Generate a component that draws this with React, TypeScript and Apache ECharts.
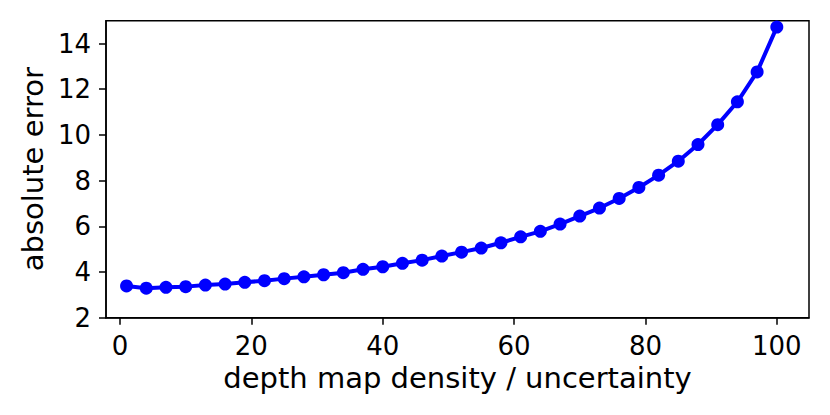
import React, { useEffect, useRef } from "react";
import * as echarts from "echarts";

const xValues = [1, 4, 7, 10, 13, 16, 19, 22, 25, 28, 31, 34, 37, 40, 43, 46, 49, 52, 55, 58, 61, 64, 67, 70, 73, 76, 79, 82, 85, 88, 91, 94, 97, 100];
const yValues = [3.39, 3.29, 3.33, 3.36, 3.43, 3.47, 3.55, 3.62, 3.71, 3.79, 3.88, 3.97, 4.12, 4.23, 4.38, 4.52, 4.70, 4.87, 5.05, 5.28, 5.54, 5.78, 6.10, 6.45, 6.80, 7.22, 7.70, 8.24, 8.85, 9.58, 10.45, 11.45, 12.76, 14.72];
const xTicks = [0, 20, 40, 60, 80, 100];
const yTicks = [2, 4, 6, 8, 10, 12, 14];
const xName = "depth map density / uncertainty";
const yName = "absolute error";

const FONT = "DejaVu Sans";

export default function App() {
  const ref = useRef<HTMLDivElement>(null);
  useEffect(() => {
    if (!ref.current) return;
    const chart = echarts.init(ref.current, undefined, { renderer: "svg" });
    chart.setOption({
      animation: false,
      backgroundColor: "#ffffff",
      grid: {
        left: 106,
        right: 21,
        top: 20.7,
        bottom: 97.3,
        show: true,
        borderColor: "#000000",
        borderWidth: 1.5,
        backgroundColor: "transparent",
      },
      xAxis: {
        type: "value",
        min: -2.13,
        max: 104.9,
        name: xName,
        nameLocation: "middle",
        nameGap: 46,
        nameTextStyle: { fontFamily: FONT, fontSize: 29, color: "#000" },
        splitLine: { show: false },
        axisLine: { show: true, onZero: false, lineStyle: { color: "#000", width: 1.5 } },
        axisTick: { show: true, length: 7, lineStyle: { color: "#000", width: 1.5 }, customValues: xTicks },
        axisLabel: { fontFamily: FONT, fontSize: 26, color: "#000", margin: 15, customValues: xTicks },
      },
      yAxis: {
        type: "value",
        min: 2,
        max: 15,
        name: yName,
        nameLocation: "middle",
        nameGap: 57,
        nameTextStyle: { fontFamily: FONT, fontSize: 29, color: "#000" },
        splitLine: { show: false },
        axisLine: { show: true, onZero: false, lineStyle: { color: "#000", width: 1.5 } },
        axisTick: { show: true, length: 7, lineStyle: { color: "#000", width: 1.5 }, customValues: yTicks },
        axisLabel: { fontFamily: FONT, fontSize: 26, color: "#000", margin: 15, customValues: yTicks },
      },
      series: [
        {
          type: "line",
          data: xValues.map((x, i) => [x, yValues[i]]),
          symbol: "circle",
          symbolSize: 13,
          showSymbol: true,
          lineStyle: { color: "#0000ff", width: 4 },
          itemStyle: { color: "#0000ff" },
          clip: false,
        },
      ],
    });
    return () => chart.dispose();
  }, []);
  return (
    <div
      ref={ref}
      style={{ position: "fixed", left: 0, top: 0, width: 830, height: 415 }}
    />
  );
}
